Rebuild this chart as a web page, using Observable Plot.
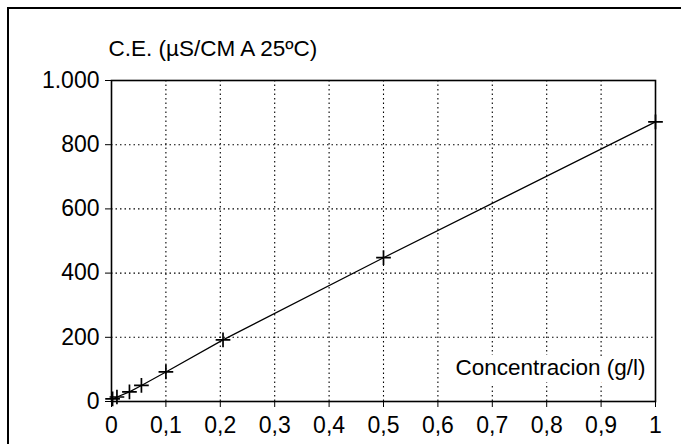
<!DOCTYPE html>
<html>
<head>
<meta charset="utf-8">
<script src="https://cdn.jsdelivr.net/npm/d3@7"></script>
<script src="https://cdn.jsdelivr.net/npm/@observablehq/plot@0.6"></script>
<style>
  html, body { margin: 0; padding: 0; background: #fff; overflow: hidden; }
  #wrap { position: relative; width: 681px; height: 444px; }
  #frame { position: absolute; left: 7px; top: 7px; width: 700px; height: 500px;
           border-left: 2px solid #000; border-top: 2px solid #000; pointer-events: none; }
  svg g[aria-label="x-axis tick label"] text, svg g[aria-label="y-axis tick label"] text { font-size: 23px; }
</style>
</head>
<body>
<div id="wrap"><div id="frame"></div></div>
<script>
// Data
const concentracion = [0.002, 0.01, 0.033, 0.055, 0.1, 0.205, 0.5, 1.0];
const conductividad = [8, 14, 30, 50, 92, 192, 448, 871];
const xTicks = [0, 0.1, 0.2, 0.3, 0.4, 0.5, 0.6, 0.7, 0.8, 0.9, 1];
const yTicks = [0, 200, 400, 600, 800, 1000];
const xGrid = [0.1, 0.2, 0.3, 0.4, 0.5, 0.6, 0.7, 0.8, 0.9];
const yGrid = [200, 400, 600, 800];
const yTitle = "C.E. (\u00B5S/CM A 25\u00BAC)";
const xTitle = "Concentracion (g/l)";

const data = concentracion.map((x, i) => ({x, y: conductividad[i]}));
const loc = d3.formatLocale({decimal: ",", thousands: ".", grouping: [3], currency: ["", ""]});
const fx = v => loc.format(",")(+v.toFixed(1));
const fy = v => loc.format(",.0f")(v);

const chart = Plot.plot({
  width: 681,
  height: 444,
  marginLeft: 111,
  marginRight: 26,
  marginTop: 80,
  marginBottom: 43,
  style: {fontFamily: "'Liberation Sans', Arial, sans-serif", fontSize: "22.5px", color: "#000", background: "transparent"},
  x: {domain: [0, 1], ticks: xTicks, tickFormat: fx, tickSize: 6, tickPadding: 9, label: null},
  y: {domain: [0, 1000], ticks: yTicks, tickFormat: fy, tickSize: 6, tickPadding: 6, label: null},
  marks: [
    Plot.ruleX(xGrid, {stroke: "#000", strokeWidth: 1.1, strokeDasharray: "1.5,3"}),
    Plot.ruleY(yGrid, {stroke: "#000", strokeWidth: 1.1, strokeDasharray: "1.5,3"}),
    Plot.frame({stroke: "#000", strokeWidth: 1.6}),
    Plot.line(data, {x: "x", y: "y", stroke: "#000", strokeWidth: 1.2}),
    Plot.dot(data, {x: "x", y: "y", symbol: "plus", r: 4.8, stroke: "#000", strokeWidth: 1.7}),
    Plot.text([yTitle], {text: d => d, frameAnchor: "top-left", textAnchor: "start", lineAnchor: "top", dx: -3, dy: -40, fill: "#000"}),
    Plot.text([xTitle], {text: d => d, frameAnchor: "bottom-right", textAnchor: "end", lineAnchor: "top", dx: -10, dy: -42, fill: "#000", stroke: "#fff", strokeWidth: 16, paintOrder: "stroke"})
  ]
});
chart.style.position = "absolute";
chart.style.left = "0";
chart.style.top = "0";
document.getElementById("wrap").appendChild(chart);
</script>
</body>
</html>
